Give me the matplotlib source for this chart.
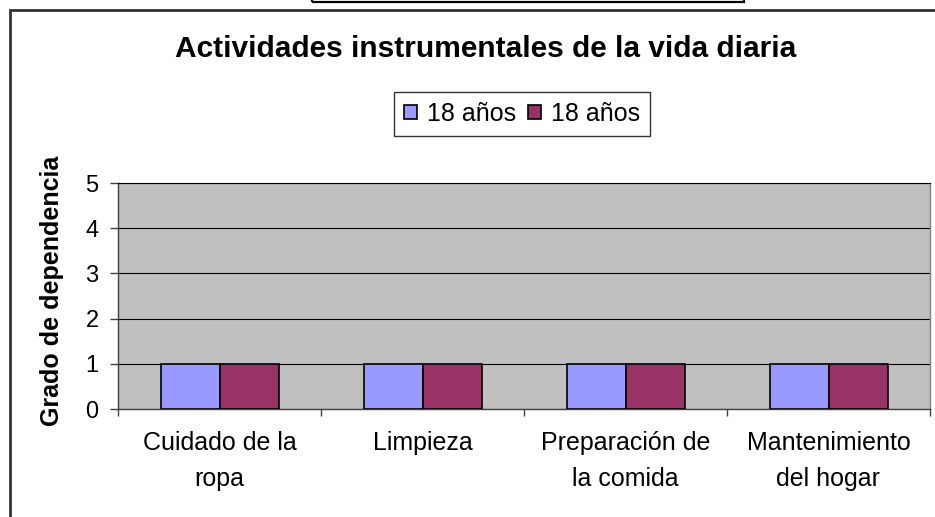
import matplotlib
matplotlib.use('Agg')
import matplotlib.pyplot as plt
from matplotlib.patches import Rectangle, Patch
import numpy as np

# ---- data ----
categories = ["Cuidado de la\nropa", "Limpieza", "Preparación de\nla comida", "Mantenimiento\ndel hogar"]
series_names = ["18 años", "18 años"]
values_a = [1, 1, 1, 1]
values_b = [1, 1, 1, 1]
y_ticks = [0, 1, 2, 3, 4, 5]
title = "Actividades instrumentales de la vida diaria"
ylabel = "Grado de dependencia"

plt.rcParams['font.family'] = ['Liberation Sans', 'DejaVu Sans']

W, H = 935, 517
fig = plt.figure(figsize=(W / 100, H / 100), dpi=100)
fig.patch.set_facecolor('white')


def fx(px):
    return px / W


def fy(py):
    return 1 - py / H


# outer chart frame (extends beyond right/bottom edges)
fig.add_artist(Rectangle((fx(9.5), fy(560)), fx(1000) - fx(9.5), fy(9.5) - fy(560),
                         transform=fig.transFigure, fill=False, edgecolor='#333333',
                         linewidth=2.0, clip_on=False))
# partial box at top
fig.add_artist(Rectangle((fx(312), fy(2)), fx(744) - fx(312), fy(-30) - fy(2),
                         transform=fig.transFigure, fill=False, edgecolor='black',
                         linewidth=1.6, clip_on=False))

ax = fig.add_axes([fx(118), fy(409), fx(930) - fx(118), fy(183) - fy(409)])
ax.set_facecolor('#C0C0C0')

x = np.arange(len(categories)) + 0.5
bw = 59 / 203
ax.bar(x - bw / 2, values_a, bw, color='#9999FF', edgecolor='black', linewidth=1.2,
       label=series_names[0], zorder=3)
ax.bar(x + bw / 2, values_b, bw, color='#993366', edgecolor='black', linewidth=1.2,
       label=series_names[1], zorder=3)

ax.set_xlim(0, len(categories))
ax.set_ylim(0, 5)
ax.set_yticks(y_ticks)
ax.yaxis.grid(True, color='black', linewidth=0.8)
ax.set_axisbelow(True)

ax.set_xticks(range(0, len(categories) + 1))
ax.set_xticklabels([])
ax.set_xticks(x, minor=True)
ax.set_xticklabels(categories, minor=True, fontsize=18, linespacing=1.6)
ax.tick_params(axis='x', which='minor', length=0, pad=16)
ax.tick_params(axis='x', which='major', length=5, color='#404040', width=1)
ax.tick_params(axis='y', length=6, pad=8, labelsize=17, color='#404040', width=1)

for s in ['left', 'bottom']:
    ax.spines[s].set_color('#404040')
    ax.spines[s].set_linewidth(1.0)
ax.spines['right'].set_color('#808080')
ax.spines['right'].set_linewidth(1.0)
ax.spines['top'].set_color('black')
ax.spines['top'].set_linewidth(0.8)

handles = [Patch(facecolor='#9999FF', edgecolor='black', linewidth=1.2),
           Patch(facecolor='#993366', edgecolor='black', linewidth=1.2)]
leg = fig.legend(handles, series_names, loc='center', bbox_to_anchor=(fx(522), fy(114)),
                 ncol=2, fontsize=18, frameon=True, fancybox=False, edgecolor='black',
                 handlelength=0.52, handleheight=0.52, handletextpad=0.4,
                 columnspacing=0.5, borderpad=0.4)
leg.get_frame().set_linewidth(1.0)

fig.text(fx(485.5), fy(57), title, ha='center', va='baseline', fontsize=21.5,
         fontweight='bold')
fig.text(fx(52), fy(291), ylabel, rotation=90, ha='center', va='center', fontsize=18,
         fontweight='bold')

fig.savefig('out.png', dpi=100)
